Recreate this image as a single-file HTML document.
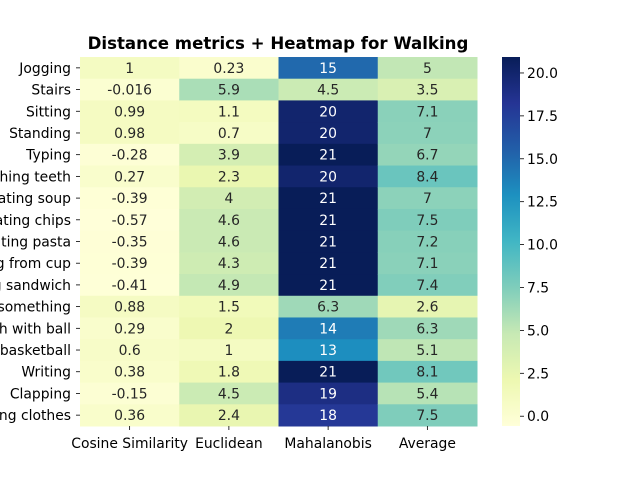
<!DOCTYPE html>
<html><head><meta charset="utf-8"><style>
body{margin:0;background:#fff;}
svg{display:block;font-family:"DejaVu Sans","Liberation Sans",sans-serif;}
</style></head><body>
<svg id="chart" width="640" height="480"></svg>
<script>
const rows=["Jogging","Stairs","Sitting","Standing","Typing","Brushing teeth","Eating soup","Eating chips","Eating pasta","Drinking from cup","Eating sandwich","Kicking something","Catch with ball","Dribbling basketball","Writing","Clapping","Folding clothes"];
const cols=["Cosine Similarity","Euclidean","Mahalanobis","Average"];
const cosine=["1","-0.016","0.99","0.98","-0.28","0.27","-0.39","-0.57","-0.35","-0.39","-0.41","0.88","0.29","0.6","0.38","-0.15","0.36"];
const euclidean=["0.23","5.9","1.1","0.7","3.9","2.3","4","4.6","4.6","4.3","4.9","1.5","2","1","1.8","4.5","2.4"];
const mahalanobis=["15","4.5","20","20","21","20","21","21","21","21","21","6.3","14","13","21","19","18"];
const average=["5","3.5","7.1","7","6.7","8.4","7","7.5","7.2","7.1","7.4","2.6","6.3","5.1","8.1","5.4","7.5"];
const cbTicks=[0,2.5,5,7.5,10,12.5,15,17.5,20];
const series=[cosine,euclidean,mahalanobis,average];
const vmin=-0.57, vmax=20.93;
const X0=80,X1=477,Y0=57,Y1=426;
const cw=(X1-X0)/cols.length, rh=(Y1-Y0)/rows.length;
const stops=["#ffffd9","#edf8b1","#c7e9b4","#7fcdbb","#41b6c4","#1d91c0","#225ea8","#253494","#081d58"];
function hex(h){return [1,3,5].map(i=>parseInt(h.substr(i,2),16));}
function cmap(t){t=Math.max(0,Math.min(1,t));const p=t*(stops.length-1);const i=Math.min(Math.floor(p),stops.length-2);const f=p-i;const a=hex(stops[i]),b=hex(stops[i+1]);return a.map((v,k)=>Math.round(v+(b[k]-v)*f));}
function lum(c){const l=c.map(v=>{v/=255;return v<=0.03928?v/12.92:Math.pow((v+0.055)/1.055,2.4)});return 0.2126*l[0]+0.7152*l[1]+0.0722*l[2];}
const svg=document.getElementById('chart');
const NS="http://www.w3.org/2000/svg";
function mk(tag,attrs,parent){const e=document.createElementNS(NS,tag);for(const k in attrs)e.setAttribute(k,attrs[k]);(parent||svg).appendChild(e);return e;}
const t=mk('text',{x:278,y:49,'text-anchor':'middle','font-size':'16.6','font-weight':'bold',fill:'#000'});


t.textContent="Distance metrics + Heatmap for Walking";
series.forEach((s,ci)=>{s.forEach((v,ri)=>{
 const val=parseFloat(v);const c=cmap((val-vmin)/(vmax-vmin));
 const r=mk('rect',{x:X0+ci*cw,y:Y0+ri*rh,width:cw+0.5,height:rh+0.5,fill:`rgb(${c})`});
 
 
 const tx=mk('text',{x:X0+ci*cw+cw/2,y:Y0+ri*rh+rh/2+5,'text-anchor':'middle','font-size':'13.9',fill:lum(c)>0.408?'#262626':'#ffffff'});
 
 
 tx.textContent=v;
});});
rows.forEach((r,ri)=>{const y=Y0+ri*rh+rh/2;
 mk('line',{x1:X0-4,x2:X0,y1:y,y2:y,stroke:'#000','stroke-width':0.8});
 const tx=mk('text',{x:X0-9,y:y+5,'text-anchor':'end','font-size':'13.9',fill:'#000'});
 
 
 tx.textContent=r;});
cols.forEach((c,ci)=>{const x=X0+ci*cw+cw/2;
 mk('line',{x1:x,x2:x,y1:Y1,y2:Y1+4,stroke:'#000','stroke-width':0.8});
 const tx=mk('text',{x:x,y:Y1+22,'text-anchor':'middle','font-size':'13.9',fill:'#000'});
 
 
 tx.textContent=c;});
const CX=502,CW=18;
const defs=mk('defs',{});
const g=mk('linearGradient',{id:'cb',x1:0,y1:1,x2:0,y2:0},defs);
stops.forEach((s,i)=>mk('stop',{offset:i/(stops.length-1),'stop-color':s},g));
const cb=mk('rect',{x:CX,y:Y0,width:CW,height:Y1-Y0,fill:'url(#cb)'});


function cy(v){return Y1-(v-vmin)/(vmax-vmin)*(Y1-Y0);}
cbTicks.forEach(v=>{const y=cy(v);
 mk('line',{x1:CX+CW,x2:CX+CW+4,y1:y,y2:y,stroke:'#000','stroke-width':0.8});
 const tx=mk('text',{x:CX+CW+7,y:y+5,'font-size':'13.9',fill:'#000'});
 
 
 tx.textContent=v.toFixed(1);});
</script>
</body></html>
